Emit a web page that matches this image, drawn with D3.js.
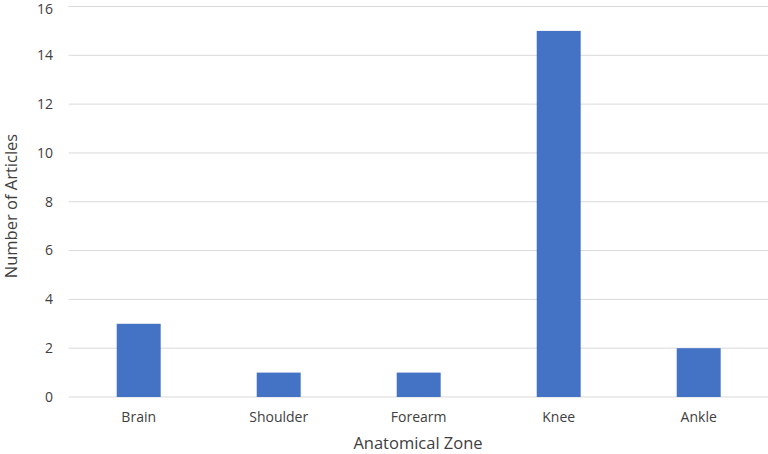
<!DOCTYPE html>
<html>
<head>
<meta charset="utf-8">
<script src="https://cdn.jsdelivr.net/npm/d3@7"></script>
<style>
  body { margin: 0; background: #fff; }
  text { font-family: "Open Sans", "Liberation Sans", sans-serif; fill: #404040; }
</style>
</head>
<body>
<div id="chart"></div>
<script>
const categories = ['Brain', 'Shoulder', 'Forearm', 'Knee', 'Ankle'];
const articles = [3, 1, 1, 15, 2];
const yTicks = [0, 2, 4, 6, 8, 10, 12, 14, 16];

const W = 768, H = 454;
const plotL = 68.7, plotR = 768.7, plotT = 6.5, plotB = 397;

const svg = d3.select('#chart').append('svg')
  .attr('width', W)
  .attr('height', H);

const x = d3.scaleBand()
  .domain(categories)
  .range([plotL, plotR])
  .paddingInner(0.686)
  .paddingOuter(0.343);

const y = d3.scaleLinear()
  .domain([0, 16])
  .range([plotB, plotT]);

// gridlines
svg.append('g')
  .selectAll('line')
  .data(yTicks)
  .join('line')
  .attr('x1', plotL)
  .attr('x2', W)
  .attr('y1', d => y(d))
  .attr('y2', d => y(d))
  .attr('stroke', '#d9d9d9')
  .attr('stroke-width', 1);

// bars
svg.append('g')
  .selectAll('rect')
  .data(articles)
  .join('rect')
  .attr('x', (d, i) => x(categories[i]))
  .attr('y', d => y(d))
  .attr('width', x.bandwidth())
  .attr('height', d => plotB - y(d))
  .attr('fill', '#4472c4');

// y tick labels (top one nudged down so it is not clipped)
svg.append('g')
  .selectAll('text')
  .data(yTicks)
  .join('text')
  .attr('x', 53)
  .attr('y', d => Math.max(y(d), 9))
  .attr('dy', '0.35em')
  .attr('text-anchor', 'end')
  .style('font-size', '14px')
  .text(d => d);

// x tick labels
svg.append('g')
  .selectAll('text')
  .data(categories)
  .join('text')
  .attr('x', d => x(d) + x.bandwidth() / 2)
  .attr('y', 422)
  .attr('text-anchor', 'middle')
  .style('font-size', '14px')
  .text(d => d);

// axis titles
svg.append('text')
  .attr('x', 418)
  .attr('y', 449)
  .attr('text-anchor', 'middle')
  .style('font-size', '16.5px')
  .text('Anatomical Zone');

svg.append('text')
  .attr('transform', 'translate(17,206) rotate(-90)')
  .attr('text-anchor', 'middle')
  .style('font-size', '16.5px')
  .text('Number of Articles');
</script>
</body>
</html>
